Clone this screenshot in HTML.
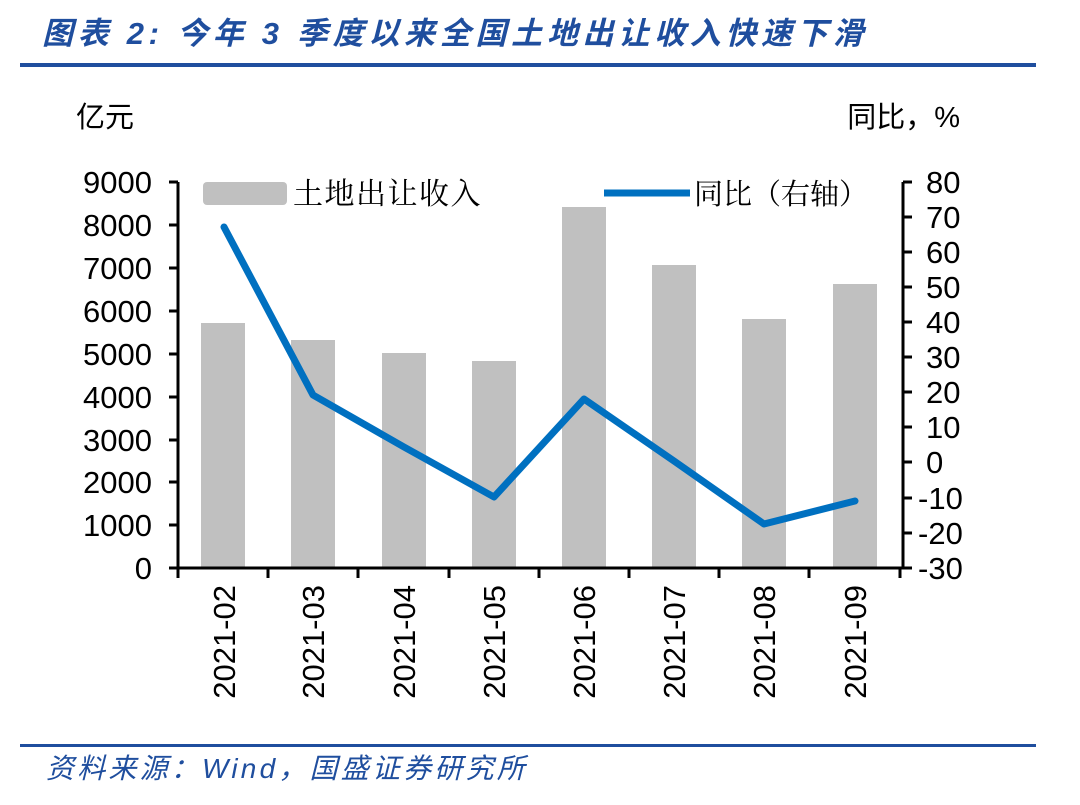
<!DOCTYPE html>
<html><head><meta charset="utf-8"><style>
body{margin:0;background:#fff;width:1080px;height:805px;overflow:hidden}
svg{display:block}
</style></head><body>
<svg width="1080" height="805" xmlns="http://www.w3.org/2000/svg">
<text x="42" y="44" font-family="'Liberation Sans','Noto Sans CJK SC',sans-serif" font-size="31" font-weight="bold" font-style="italic" fill="#1f4e9e" letter-spacing="4.7">图表 2:  今年 3 季度以来全国土地出让收入快速下滑</text>
<rect x="20" y="63" width="1016" height="4" fill="#1f4e9e"/>
<g font-family="'Liberation Sans','Noto Sans CJK SC',sans-serif" font-size="29" fill="#000">
<text x="76" y="127">亿元</text>
<text x="960" y="127" text-anchor="end">同比，%</text>
</g>
<g fill="#c0c0c0">
<rect x="201" y="323" width="44" height="245"/>
<rect x="291" y="340" width="44" height="228"/>
<rect x="382" y="353" width="44" height="215"/>
<rect x="472" y="361" width="44" height="207"/>
<rect x="562" y="207" width="44" height="361"/>
<rect x="652" y="265" width="44" height="303"/>
<rect x="742" y="319" width="44" height="249"/>
<rect x="833" y="284" width="44" height="284"/>
</g>
<rect x="203" y="182" width="84" height="23" rx="4" fill="#c0c0c0"/>
<text x="293" y="204" font-family="'Noto Serif CJK SC',serif" font-size="30" letter-spacing="1.5">土地出让收入</text>
<line x1="604" y1="193" x2="690" y2="193" stroke="#0070c0" stroke-width="7"/>
<text x="694" y="204" font-family="'Noto Serif CJK SC',serif" font-size="29">同比（右轴）</text>
<polyline points="224,227 313,395 404,447 494,497 584,399 674,461 764,524 855,501" fill="none" stroke="#0070c0" stroke-width="7" stroke-linejoin="round" stroke-linecap="round"/>
<g stroke="#000" stroke-width="3" fill="none">
<line x1="178" y1="182" x2="178" y2="569"/>
<line x1="903" y1="182" x2="903" y2="569"/>
<line x1="169" y1="568" x2="912" y2="568"/>
<path d="M169 182H178M169 225H178M169 268H178M169 311H178M169 354H178M169 397H178M169 440H178M169 482H178M169 525H178"/>
<path d="M903 182H912M903 217H912M903 252H912M903 287H912M903 322H912M903 357H912M903 392H912M903 427H912M903 462H912M903 498H912M903 533H912"/>
<path d="M178 568V578M268 568V578M358 568V578M449 568V578M539 568V578M629 568V578M719 568V578M809 568V578M900 568V578"/>
</g>
<g font-family="'Liberation Sans',sans-serif" font-size="31" fill="#000" text-anchor="end">
<text x="152" y="193">9000</text><text x="152" y="236">8000</text><text x="152" y="279">7000</text>
<text x="152" y="322">6000</text><text x="152" y="365">5000</text><text x="152" y="408">4000</text>
<text x="152" y="451">3000</text><text x="152" y="493">2000</text><text x="152" y="536">1000</text>
<text x="152" y="579">0</text>
</g>
<g font-family="'Liberation Sans',sans-serif" font-size="31" fill="#000">
<text x="926" y="193">80</text><text x="926" y="228">70</text><text x="926" y="263">60</text>
<text x="926" y="298">50</text><text x="926" y="333">40</text><text x="926" y="368">30</text>
<text x="926" y="403">20</text><text x="926" y="438">10</text><text x="926" y="473">0</text>
<text x="918" y="509">-10</text><text x="918" y="544">-20</text><text x="918" y="579">-30</text>
</g>
<g font-family="'Liberation Sans',sans-serif" font-size="31" fill="#000" text-anchor="end">
<text transform="translate(235,585) rotate(-90)">2021-02</text>
<text transform="translate(324,585) rotate(-90)">2021-03</text>
<text transform="translate(415,585) rotate(-90)">2021-04</text>
<text transform="translate(505,585) rotate(-90)">2021-05</text>
<text transform="translate(595,585) rotate(-90)">2021-06</text>
<text transform="translate(685,585) rotate(-90)">2021-07</text>
<text transform="translate(775,585) rotate(-90)">2021-08</text>
<text transform="translate(866,585) rotate(-90)">2021-09</text>
</g>
<rect x="20" y="744" width="1016" height="3" fill="#1f4e9e"/>
<text x="46" y="778" font-family="'Liberation Sans','Noto Sans CJK SC',sans-serif" font-size="28" font-style="italic" fill="#1f4e9e" letter-spacing="3.2">资料来源：Wind，国盛证券研究所</text>
</svg>
</body></html>
